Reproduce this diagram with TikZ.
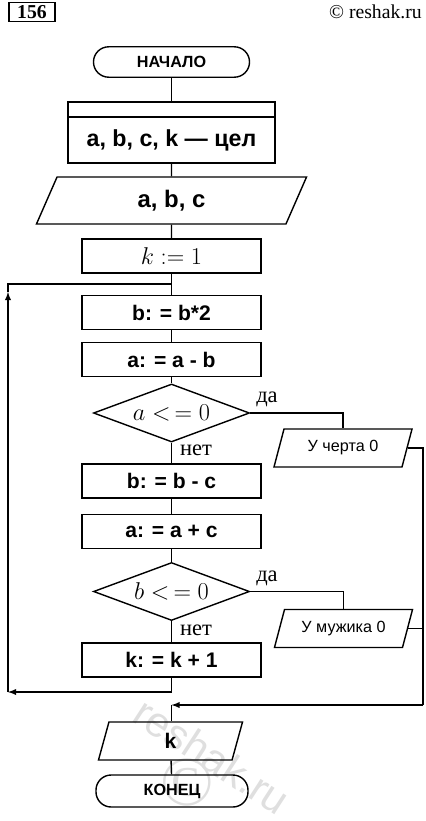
\documentclass[tikz,border=0pt]{standalone}
\usepackage{fontspec}
\usepackage{amsmath}
\setmainfont{Liberation Serif}
\setsansfont{Liberation Sans}
\usetikzlibrary{shapes.geometric,positioning,arrows}

\tikzset{
  blk/.style = {draw, line width = 1pt, inner sep = 0pt,
    font = \sffamily\bfseries\fontsize{15}{17}\selectfont},
  term/.style = {blk, rectangle, rounded corners = 0.38cm,
    minimum width = 3.9cm, minimum height = 0.76cm,
    font = \sffamily\bfseries\fontsize{11.5}{13}\selectfont},
  proc/.style = {blk, rectangle, minimum width = 4.475cm, minimum height = 0.85cm},
  io/.style = {blk, trapezium, trapezium stretches body,
    trapezium left angle = 55.6, trapezium right angle = 124.4,
    minimum width = 3.45cm, minimum height = 0.95cm},
  cond/.style = {blk, diamond, aspect = 2.69, minimum width = 3.9cm, minimum height = 1.45cm,
    font = \fontsize{16}{18}\selectfont},
  ans/.style = {font = \fontsize{16}{18}\selectfont, inner sep = 0pt},
  link/.style = {line width = 1pt},
  wmark/.style = {text = gray!25, inner sep = 0pt}
}

\begin{document}
\begin{tikzpicture}[x = 0.025cm, y = -0.025cm]
\useasboundingbox (0, 0) rectangle (426, 821);

% watermark
\node[wmark, rotate = -33, font = \sffamily\fontsize{30}{30}\selectfont] (wm) at (212, 756) {reshak.ru};
\node[wmark, font = \fontsize{50}{50}\selectfont] (wmc) at (187, 782) {©};

% header
\node[draw, line width = 1.2pt, minimum width = 1.15cm, minimum height = 0.475cm,
  inner sep = 0pt, font = \bfseries\fontsize{14}{16}\selectfont] (num) at (32, 12) {156};
\node[anchor = east, inner sep = 0pt, font = \fontsize{14}{16}\selectfont] (site) at (422, 12) {© reshak.ru};

% main column
\node[term] (start) at (171.5, 62) {НАЧАЛО};
\node[proc, outer sep = 0pt, minimum width = 5.175cm, minimum height = 0.375cm] (declhead) at (171.5, 109.5) {};
\node[proc, outer sep = 0pt, minimum width = 5.175cm, minimum height = 1.15cm, below = 0pt of declhead,
  font = \sffamily\bfseries\fontsize{16.5}{18}\selectfont] (decl) {a, b, c, k --- цел};
\node[io, trapezium left angle = 45.6, trapezium right angle = 134.4,
  minimum width = 6.75cm, minimum height = 1.175cm,
  font = \sffamily\bfseries\fontsize{17}{19}\selectfont] (abc) at (171.5, 200.5) {a, b, c};
\node[proc, font = \fontsize{17}{19}\selectfont] (k1) at (171.5, 256) {$k :=1$};
\node[proc] (b2) at (171.5, 312.5) {b: = b*2};
\node[proc] (aab) at (171.5, 359.5) {a: = a - b};
\node[cond] (d1) at (171.5, 413) {$a <\,= 0$};
\node[proc] (bbc) at (171.5, 481) {b: = b - c};
\node[proc] (aac) at (171.5, 531.5) {a: = a + c};
\node[cond] (d2) at (171.5, 591.5) {$b <\,= 0$};
\node[proc] (kk1) at (171.5, 660) {k: = k + 1};
\node[io, minimum width = 3.6cm] (kout) at (170.5, 741) {k};
\node[term, minimum width = 3.8cm, minimum height = 0.8cm] (stop) at (172, 791) {КОНЕЦ};

% side outputs
\node[io, font = \sffamily\fontsize{11.5}{13}\selectfont] (uch) at (343, 448) {У черта 0};
\node[io, font = \sffamily\fontsize{11.5}{13}\selectfont] (umuzh) at (343.5, 628.5) {У мужика 0};

% answers
\node[ans] (yes1) at (267, 399) {да};
\node[ans] (no1) at (196, 450) {нет};
\node[ans] (yes2) at (267, 578) {да};
\node[ans] (no2) at (196, 630) {нет};

% helper points
\coordinate (loop) at (171.5, 284);
\coordinate (loopup) at (8, 292);
\coordinate (back) at (8, 692);
\coordinate (rdown) at (423, 705);
\coordinate (join) at (171.5, 705);

% connectors
\draw[link] (start) -- (declhead);
\draw[link] (decl) -- (abc);
\draw[link] (abc) -- (k1);
\draw[link] (k1) -- (b2);
\draw[link] (b2) -- (aab);
\draw[link] (aab) -- (d1);
\draw[link] (d1) -- (bbc);
\draw[link] (bbc) -- (aac);
\draw[link] (aac) -- (d2);
\draw[link] (d2) -- (kk1);
\draw[link] (d1.east) -| (uch.north);
\draw[link] (d2.east) -| (umuzh.north);
\draw[link, -latex] (kk1.south) |- (back);
\draw[link, -latex] (back) -- (loopup);
\draw[link] (loopup) |- (loop);
\draw[link] (uch.east) -| (rdown);
\draw[link] (umuzh.east) -- (umuzh.east -| rdown);
\draw[link, -latex] (rdown) -- (join);
\draw[link] (join) -- (kout.north -| join);
\draw[link] (kout) -- (stop);
\end{tikzpicture}
\end{document}
